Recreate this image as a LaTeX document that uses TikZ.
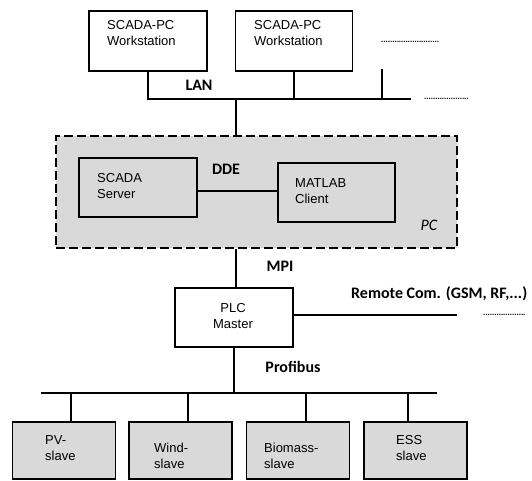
\documentclass[tikz,border=0pt]{standalone}
\usepackage{fontspec}
\setmainfont{Liberation Sans}
\newfontfamily\calibri{Carlito}
\definecolor{pcgray}{RGB}{217,217,217}

\tikzset{box/.style = {draw, line width=1.9pt, minimum width=#1, minimum height=59pt, inner sep=0},
         box/.default=118pt,
         slave/.style = {box=103pt, fill=pcgray, minimum height=57pt},
         bus/.style = {line width=1.9pt},
         txt/.style = {inner sep=0, align=left, anchor=base west, font=\fontsize{13}{16}\selectfont},
         lbl/.style = {inner sep=0, anchor=base, font=\calibri\bfseries\fontsize{16}{18}\selectfont},
         dots/.style = {inner sep=0, anchor=base west, font=\bfseries\fontsize{8}{10}\selectfont}
        }

\begin{document}
\begin{tikzpicture}[x=1pt, y=-1pt]
\useasboundingbox (0,0) rectangle (532,480);
\node[box, minimum height=60pt] (ws1) at (148,41) {};
\node[box=117pt, minimum height=60pt] (ws2) at (294,41) {};
\node[txt] (ws1t) at (107,45.7) {SCADA-PC\\Workstation};
\node[txt] (ws2t) at (254,45.7) {SCADA-PC\\Workstation};
\node[dots] (wsdots) at (381,42) {..........................};
\coordinate (lanend) at (411,99);
\coordinate (lantap) at (236,99);
\coordinate (wsmore) at (382,69);
\draw[bus] (ws1.south) |- (lanend);
\draw[bus] (ws2.south) -- (ws2.south |- lanend);
\draw[bus] (wsmore) -- (wsmore |- lanend);
\node[dots] (landots) at (424,99.8) {....................};
\node[lbl] (lan) at (199,90) {LAN};

\node[draw, dash pattern=on 9pt off 4pt, line width=1.9pt, fill=pcgray,
      minimum width=401pt, minimum height=112pt] (pc) at (256.5,192) {};
\draw[bus] (lantap) -- (lantap |- pc.north);
\node[box] (server) at (138,187.5) {};
\node[box=117pt] (client) at (336.5,192.5) {};
\node[txt] (servert) at (97,198) {SCADA\\Server};
\node[txt] (clientt) at (295,203) {MATLAB\\Client};
\coordinate (dde) at ([yshift=-3.5pt]server.east);
\draw[bus] (dde) -- (dde -| client.west);
\node[lbl] (ddel) at (226,174) {DDE};
\node[inner sep=0, anchor=base, font=\calibri\itshape\fontsize{16}{18}\selectfont] (pcl) at (429,230) {PC};

\node[box] (plc) at (234,317.5) {};
\node[txt, align=center, anchor=base] (plct) at (233,328) {PLC\\Master};
\draw[bus] (lantap |- pc.south) -- (lantap |- plc.north);
\node[lbl] (mpi) at (280,271) {MPI};
\coordinate (remend) at (457,315);
\draw[bus] (remend -| plc.east) -- (remend);
\node[dots] (remdots) at (483,315.8) {...................};
\node[lbl, anchor=base west] (rem) at (351,298) {Remote Com. (GSM, RF,...)};

\coordinate (pbl) at (41,393);
\coordinate (pbr) at (437,393);
\draw[bus] (pbl) -- (pbr);
\draw[bus] (plc.south) -- (plc.south |- pbl);
\node[lbl] (pb) at (293,372) {Profibus};

\foreach \n/\x/\t/\tx/\ty/\s in {pv/64/71/45/460.7/PV-, wind/180.5/188/154/468/Wind-, bio/298/306/264/468/Biomass-, ess/415.5/408/396/460.7/ESS}
   {\node[slave] (\n) at (\x,450.5) {};
    \node[txt] (\n t) at (\tx,\ty) {\s\\slave};
    \draw[bus] (\n.north -| \t,0) -- (\t,0 |- pbl);};
\end{tikzpicture}
\end{document}
